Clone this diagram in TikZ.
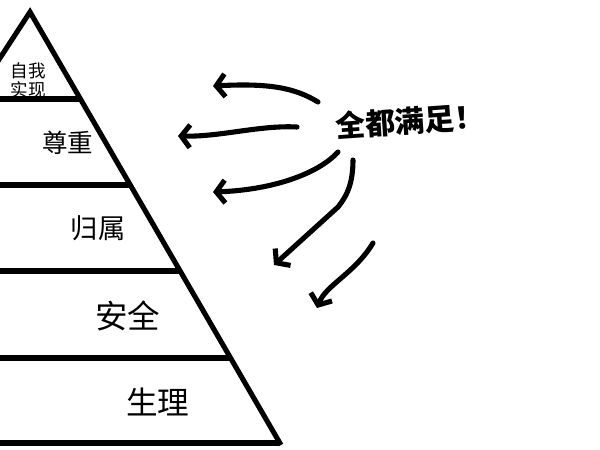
\documentclass[tikz,border=0pt]{standalone}
\usepackage{fontspec}
\newfontfamily\cjk{Noto Sans CJK SC}
\usetikzlibrary{arrows.meta}

\begin{document}
\begin{tikzpicture}[x=0.02cm,y=-0.02cm,
  >={Straight Barb[length=5pt,width=13pt]},
  wall/.style={line width=2.9pt},
  hand/.style={line width=2.9pt,line cap=round,line join=round,->}]
\clip (0,0) rectangle (600,450);
\fill[white] (0,0) rectangle (600,450);
% --- pyramid ---
\coordinate (top) at (30,12);
\coordinate (base) at (281,445);
\draw[wall] (-30,104) -- (top) -- (base);
% one bar per level, ends on the right side
\foreach \y in {99,185,271,358,443}
  \draw[wall] (-5,\y) -- ({30+0.577*(\y-12)},\y);
\node[font=\cjk\fontsize{10}{12}\selectfont,align=center] (self) at (28,80) {自我\\[-1pt]实现};
\node[font=\cjk\fontsize{14.5}{16}\selectfont] (esteem) at (68,143) {尊重};
\node[font=\cjk\fontsize{15.5}{17}\selectfont] (belong) at (98,228) {归属};
\node[font=\cjk\fontsize{18.5}{20}\selectfont] (safety) at (128,316) {安全};
\node[font=\cjk\fontsize{18}{20}\selectfont] (body) at (158,402) {生理};

% --- all satisfied ---
\node[font=\cjk\bfseries\fontsize{17}{19}\selectfont,rotate=4] (all) at (410,121) {全都满足！};
\coordinate (a1s) at (318,102); \coordinate (a1e) at (213,86);
\coordinate (a2s) at (297,127); \coordinate (a2e) at (178,136);
\coordinate (a3s) at (338,152); \coordinate (a3e) at (213,192);
\coordinate (a4s) at (353,160); \coordinate (a4e) at (274,265);
\coordinate (a5s) at (373,243); \coordinate (a5e) at (317,308);
\draw[hand] (a1s) .. controls (295,88) and (270,83) .. (a1e);
\draw[hand] (a2s) .. controls (260,125) and (220,137) .. (a2e);
\draw[hand] (a3s) .. controls (318,174) and (272,190) .. (a3e);
\draw[hand] (a4s) .. controls (353,185) and (346,197) .. (338,207) -- (a4e);
\draw[hand] (a5s) .. controls (355,273) and (326,285) .. (a5e);
\end{tikzpicture}
\end{document}
